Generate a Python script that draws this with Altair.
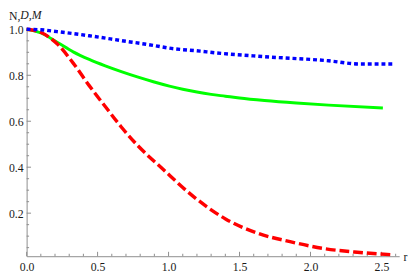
import altair as alt
import pandas as pd

# ---- data ----
r_green = [0, 0.102, 0.215, 0.328, 0.441, 0.554, 0.667, 0.78, 0.893, 1.006, 1.1, 1.2, 1.3, 1.4,
           1.5, 1.676, 1.9, 2.128, 2.51]
v_green = [1.0, 0.984, 0.944, 0.902, 0.869, 0.841, 0.816, 0.793, 0.772, 0.753, 0.739, 0.727, 0.717,
           0.709, 0.701, 0.690, 0.679, 0.670, 0.658]

r_red = [0, 0.102, 0.215, 0.328, 0.441, 0.554, 0.667, 0.78, 0.961, 1.178, 1.404, 1.63, 1.856,
         2.083, 2.309, 2.58]
v_red = [1.0, 0.986, 0.937, 0.853, 0.755, 0.664, 0.575, 0.496, 0.391, 0.271, 0.174, 0.112, 0.076,
         0.047, 0.031, 0.019]

r_blue = [0, 0.1, 0.215, 0.441, 0.667, 0.893, 1.006, 1.223, 1.325, 1.676, 2.128, 2.35, 2.58]
v_blue = [1.0, 0.998, 0.99, 0.972, 0.951, 0.930, 0.918, 0.905, 0.898, 0.881, 0.863, 0.849, 0.849]

x_major = [0.0, 0.5, 1.0, 1.5, 2.0, 2.5]
x_minor = [0.1, 0.2, 0.3, 0.4, 0.6, 0.7, 0.8, 0.9, 1.1, 1.2, 1.3, 1.4, 1.6, 1.7, 1.8, 1.9,
           2.1, 2.2, 2.3, 2.4, 2.6]
y_major = [0.2, 0.4, 0.6, 0.8, 1.0]
y_minor = [0.05, 0.1, 0.15, 0.25, 0.3, 0.35, 0.45, 0.5, 0.55, 0.65, 0.7, 0.75, 0.85, 0.9, 0.95]

x_domain = [0, 2.625]
y_domain = [0.0126, 1.0067]

df_green = pd.DataFrame({"r": r_green, "v": v_green})
df_red = pd.DataFrame({"r": r_red, "v": v_red})
df_blue = pd.DataFrame({"r": r_blue, "v": v_blue})

W, H = 380, 233
FONT = "Liberation Serif"
AX = "#8c8c8c"
TXT = "#1a1a1a"

xs = alt.Scale(domain=x_domain, nice=False, zero=False)
ys = alt.Scale(domain=y_domain, nice=False, zero=False)

common_axis = dict(grid=False, labelFont=FONT, labelFontSize=12, labelColor=TXT,
                   titleFont=FONT, titleFontSize=12, titleColor=TXT, titleFontWeight="normal",
                   domainColor=AX, labelFlush=False, ticks=False, tickSize=0)

x_axis_main = alt.Axis(orient="bottom", values=x_major, format=".1f",
                       labelPadding=6, labelBaseline="top",
                       title="r", titleX=384, titleY=4.7, titleAlign="left",
                       titleBaseline="alphabetic", titleAngle=0, **common_axis)
y_axis_main = alt.Axis(orient="left", values=y_major, format=".1f",
                       labelPadding=3.5, labelBaseline="middle",
                       title="N,", titleAngle=0, titleAlign="left", titleBaseline="alphabetic",
                       titleX=-18.5, titleY=-8.5, **common_axis)

green = alt.Chart(df_green).mark_line(
    color="#00ff00", strokeWidth=3, interpolate="monotone"
).encode(
    x=alt.X("r:Q", scale=xs, axis=x_axis_main),
    y=alt.Y("v:Q", scale=ys, axis=y_axis_main),
)

red = alt.Chart(df_red).mark_line(
    color="#ff0000", strokeWidth=3.5, strokeDash=[10, 4], interpolate="monotone", strokeCap="butt"
).encode(
    x=alt.X("r:Q", scale=xs, axis=None),
    y=alt.Y("v:Q", scale=ys, axis=None),
)

blue = alt.Chart(df_blue).mark_line(
    color="#0000ff", strokeWidth=3.5, strokeDash=[4, 3], interpolate="monotone", strokeCap="butt"
).encode(
    x=alt.X("r:Q", scale=xs, axis=None),
    y=alt.Y("v:Q", scale=ys, axis=None),
)

# inward tick marks (Mathematica style)
def xticks(vals, length):
    return alt.Chart(pd.DataFrame({"t": vals})).mark_rule(color=AX, strokeWidth=1).encode(
        x=alt.X("t:Q", scale=xs, axis=None),
        y=alt.value(H), y2=alt.value(H - length),
    )

def yticks(vals, length):
    return alt.Chart(pd.DataFrame({"t": vals})).mark_rule(color=AX, strokeWidth=1).encode(
        y=alt.Y("t:Q", scale=ys, axis=None),
        x=alt.value(0), x2=alt.value(length),
    )

# italic part of the vertical-axis label
dm_label = alt.Chart(pd.DataFrame({"s": ["D,M"]})).mark_text(
    font=FONT, fontSize=12, fontStyle="italic", color=TXT, align="left", baseline="alphabetic"
).encode(
    text="s:N", x=alt.value(-6.5), y=alt.value(-8.5),
)

chart = alt.layer(
    green, xticks(x_minor, 2.5), xticks(x_major, 4.5), yticks(y_minor, 2.5), yticks(y_major, 4.5),
    red, blue, dm_label,
).resolve_axis(
    x="independent", y="independent"
).properties(
    width=W, height=H,
    autosize=alt.AutoSizeParams(type="none"),
    padding={"left": 19, "top": 17.5, "right": 10, "bottom": 18},
    background="white",
).configure_view(stroke=None)

chart.save("out.html", embed_options={"renderer": "svg", "actions": False})
